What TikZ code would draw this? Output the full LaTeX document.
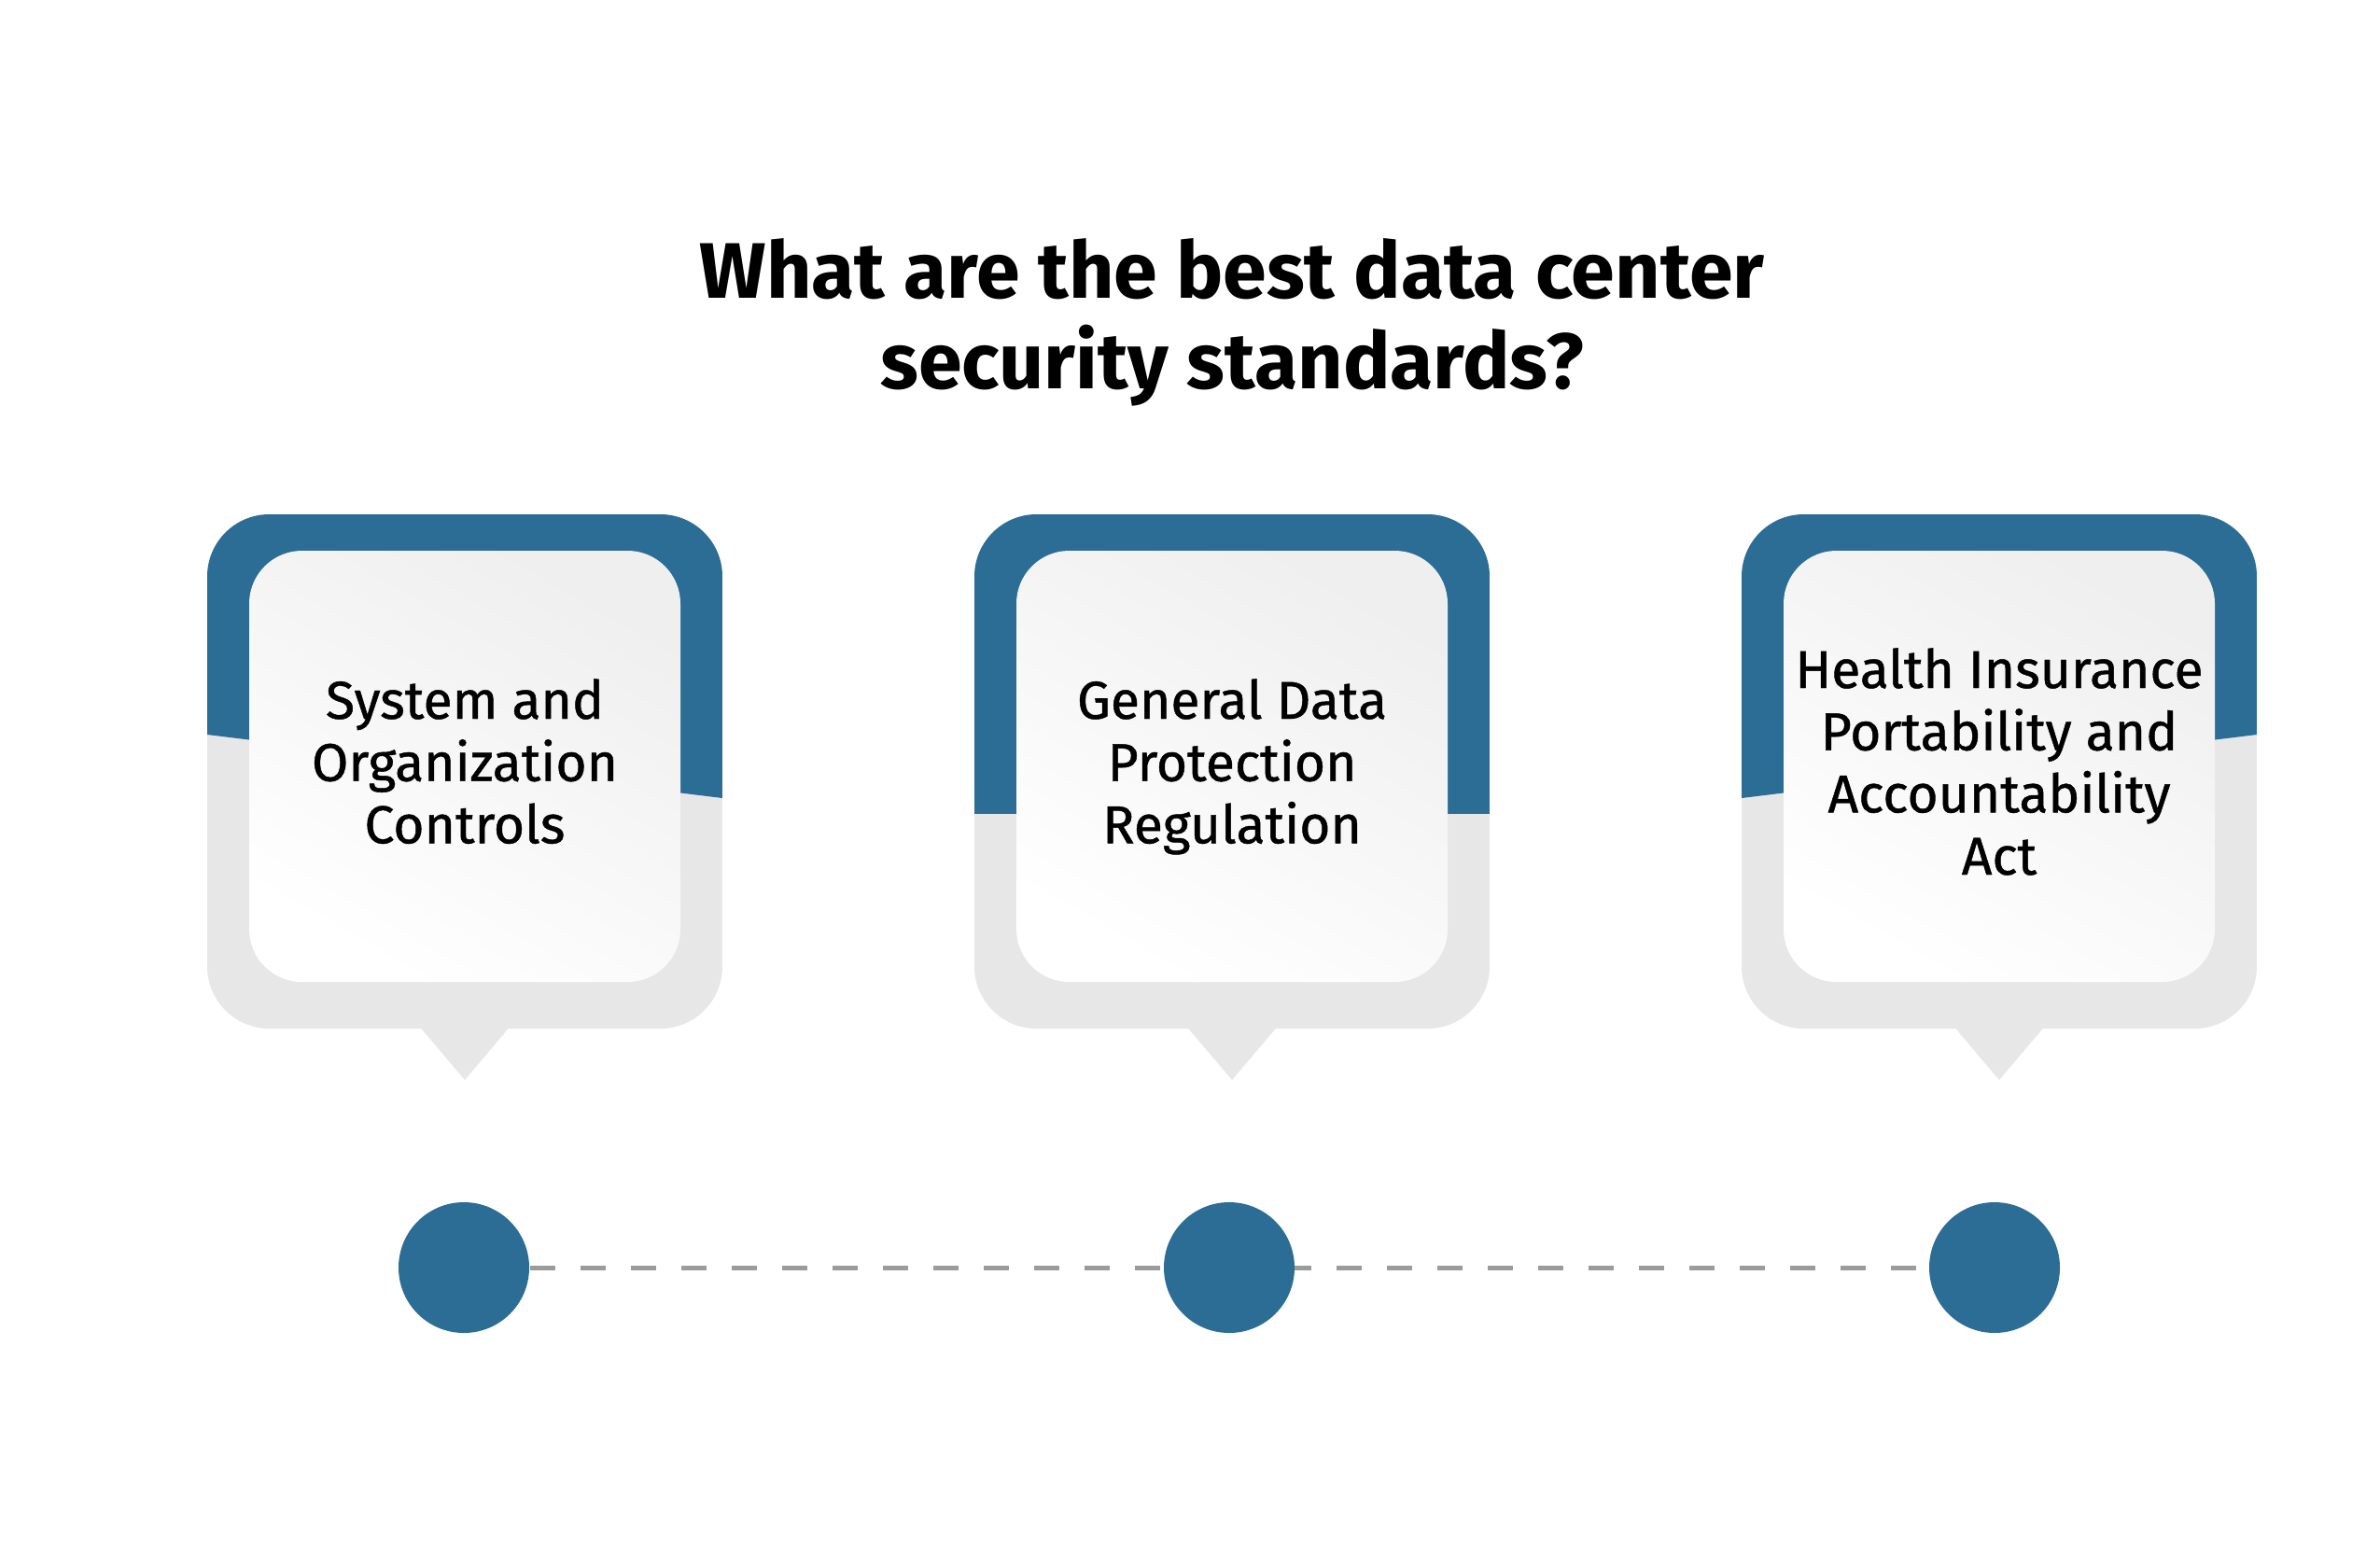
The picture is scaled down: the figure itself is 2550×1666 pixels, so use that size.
\documentclass[tikz,border=0pt]{standalone}
\usepackage{fontspec}
\setmainfont{Fira Sans}
\newfontfamily\cardfont{Fira Sans}[FakeBold=0.8]
\usetikzlibrary{calc}
\pgfdeclarelayer{bg}
\pgfsetlayers{bg,main}
\definecolor{cblue}{HTML}{2C6D96}
\definecolor{cgrey}{HTML}{E7E7E7}
\definecolor{cdash}{HTML}{9B9B9B}
\definecolor{cshade}{HTML}{EFEFEF}
\newcommand{\drawcard}[3]{%
  \fill[cgrey] (#1-50,1098) -- (#1,1157) -- (#1+50,1098) -- cycle;
  \begin{scope}
    \clip[rounded corners=20pt] (#1-276,551) rectangle (#1+276,1102);
    \fill[cgrey] (#1-276,551) rectangle (#1+276,1102);
    \fill[cblue] (#1-276,540) -- (#1+276,540) -- (#1+276,#3) -- (#1-276,#2) -- cycle;
  \end{scope}
  \shade[rounded corners=17pt, top color=cshade, bottom color=white, shading angle=-30]
    (#1-231,590) rectangle (#1+231,1052);
}
\tikzset{
  dot/.style={circle, fill=cblue, minimum size=42pt, inner sep=0pt},
  cardtext/.style={anchor=base, inner sep=0pt, text=black, font=\cardfont\fontsize{17.1}{20}\selectfont},
  titletext/.style={anchor=base, inner sep=0pt, text=black, font=\fontsize{25.3}{30}\selectfont\bfseries},
  link/.style={cdash, line width=1.5pt, dash pattern=on 8.1pt off 8.1pt}
}
\begin{document}
\begin{tikzpicture}[x=0.3pt,y=-0.3pt]
\begin{pgfonlayer}{bg}
\fill[white] (0,0) rectangle (2550,1666);
\end{pgfonlayer}
\useasboundingbox (0,0) rectangle (2550,1666);
\node[titletext] (t1) at (1320,319) {What are the best data center};
\node[titletext] (t2) at (1320,416) {security standards?};
\drawcard{498}{787}{855}
\drawcard{1320}{872}{872}
\drawcard{2142}{855}{787}
\node[cardtext] (l1) at (498,770) {\begin{tabular}[t]{@{}c@{}}System and\\Organization\\Controls\end{tabular}};
\node[cardtext] (l2) at (1320,770) {\begin{tabular}[t]{@{}c@{}}General Data\\Protection\\Regulation\end{tabular}};
\node[cardtext] (l3) at (2142,737) {\begin{tabular}[t]{@{}c@{}}Health Insurance\\Portability and\\Accountability\\Act\end{tabular}};
\node[dot] (c1) at (497,1358) {};
\node[dot] (c2) at (1317,1358) {};
\node[dot] (c3) at (2137,1358) {};
\begin{pgfonlayer}{bg}
\draw[link] (c1) -- (c3);
\end{pgfonlayer}
\end{tikzpicture}
\end{document}
